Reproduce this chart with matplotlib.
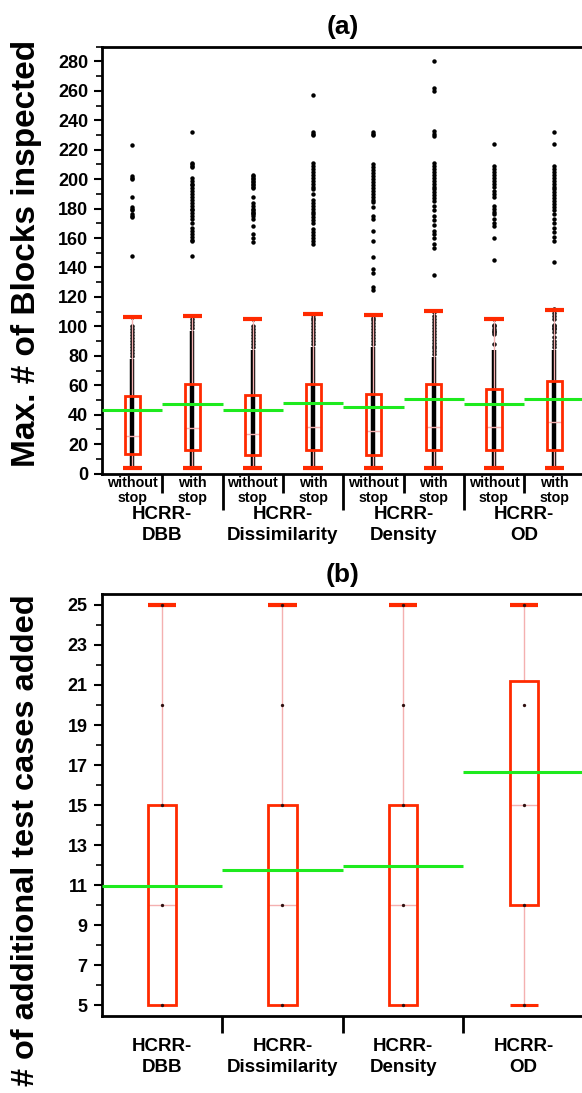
import numpy as np
import matplotlib
matplotlib.use("Agg")
import matplotlib.pyplot as plt
from matplotlib.ticker import MultipleLocator, FixedLocator
from matplotlib.transforms import blended_transform_factory

plt.rcParams['font.family'] = ['Liberation Sans', 'DejaVu Sans']
plt.rcParams['font.weight'] = 'bold'

groups = ['HCRR-\nDBB', 'HCRR-\nDissimilarity', 'HCRR-\nDensity', 'HCRR-\nOD']
variants = ['without\nstop', 'with\nstop']

# panel (a): max # of blocks inspected, 8 boxes (without / with stop per group)
a_low = [3.5, 3.5, 3.6, 3.5, 3.5, 3.6, 3.5, 3.6]
a_q1 = [13.0, 16.0, 12.5, 16.0, 12.3, 16.3, 16.0, 16.3]
a_med = [25.7, 31.1, 27.0, 31.8, 28.6, 31.9, 31.8, 34.9]
a_q3 = [52.7, 61.0, 53.3, 61.0, 53.8, 61.0, 57.3, 62.9]
a_high = [106.5, 107.3, 104.7, 108.1, 107.9, 110.2, 105.1, 111.4]
a_mean = [42.9, 47.6, 43.5, 47.8, 45.1, 50.7, 47.0, 50.7]
# raw observations: solid run of values, then the individual points
a_dense_lo = [3, 3, 3, 3, 3, 3, 3, 3]
a_dense_hi = [78, 97, 84, 86, 86, 79, 84, 84]
a_points = [
    [80, 82, 84, 86, 88, 90, 92, 94, 96, 98, 100, 106.5,
     148, 174, 175, 176, 179, 180, 181, 188, 200, 201, 202, 223],
    [99, 101, 103, 105, 107,
     148, 158, 159, 161, 163, 165, 167, 170, 173, 175, 177, 179, 180, 182, 184,
     186, 188, 190, 192, 194, 196, 197, 199, 201, 208, 209, 210, 211, 232],
    [86, 88, 90, 92, 94, 96, 98, 100, 105,
     157, 160, 163, 168, 173, 175, 176, 177, 178, 179, 180, 182, 184, 188,
     194, 195, 196, 197, 198, 199, 200, 201, 202, 203],
    [88, 90, 92, 94, 96, 98, 100, 102, 104, 106, 108,
     156, 158, 160, 162, 164, 166, 170, 172, 174, 176, 178, 180, 182, 184, 186,
     190, 193, 195, 197, 199, 201, 203, 205, 207, 209, 211, 230, 231, 232, 257],
    [88, 90, 92, 94, 96, 98, 100, 102, 104, 106, 108,
     125, 127, 136, 139, 147, 158, 165, 173, 175, 181, 184.5, 186, 188, 190,
     192, 194, 196, 198, 200, 202, 204, 206, 208, 210, 230, 231, 232],
    [81, 83, 85, 87, 89, 91, 93, 95, 97, 99, 101, 103, 105, 107, 110,
     135, 153, 156, 160, 163, 165, 169, 172, 175, 179, 182, 185, 187, 189, 191,
     193, 195, 197, 199, 201, 203, 205, 207, 209, 211, 229, 231, 233, 260, 262, 280],
    [88, 95, 96, 97, 98, 100, 101, 105,
     145, 160, 168, 170, 173, 176, 178, 180, 182, 188, 190, 192, 195, 197, 199,
     201, 203, 205, 207, 209, 224],
    [86, 88, 90, 93, 96, 98, 99, 100, 101, 105, 107, 109, 112,
     144, 158, 161, 164, 167, 170, 173, 176, 179, 181, 183, 185, 187, 189, 191,
     193, 195, 197, 199, 201, 203, 205, 207, 209, 224, 232],
]

# panel (b): # of additional test cases added, 4 boxes
b_low = [5, 5, 5, 5]
b_q1 = [5, 5, 5, 10]
b_med = [10, 10, 10, 15]
b_q3 = [15, 15, 15, 21.2]
b_high = [25, 25, 25, 25]
b_mean = [10.95, 11.77, 11.94, 16.64]
b_points = [[5, 10, 15, 20, 25]] * 4

RED = '#ff2a00'
PINK = '#f4b0b0'
GREEN = '#1eea1e'

fig = plt.figure(figsize=(5.82, 10.93), dpi=100)
ax1 = fig.add_axes([0.1753, 0.5667, 0.8289, 0.3906])
ax2 = fig.add_axes([0.1745, 0.0705, 0.8289, 0.3858])


def draw_boxes(ax, low, q1, med, q3, high, mean, bw, cw, cap_all):
    n = len(q1)
    x = np.arange(n) + 0.5
    for i in range(n):
        ax.vlines(x[i], q3[i], high[i], color=PINK, lw=1, zorder=4)
        ax.vlines(x[i], low[i], q1[i], color=PINK, lw=1, zorder=4)
        ax.hlines(med[i], x[i] - bw / 2, x[i] + bw / 2, color=PINK, lw=1, zorder=4)
        ax.add_patch(plt.Rectangle((x[i] - bw / 2, q1[i]), bw, q3[i] - q1[i],
                                   fill=False, ec=RED, lw=2, zorder=5))
        ax.hlines(high[i], x[i] - cw / 2, x[i] + cw / 2, color=RED, lw=3, zorder=5)
        if cap_all or low[i] < q1[i]:
            ax.hlines(low[i], x[i] - cw / 2, x[i] + cw / 2, color=RED,
                      lw=3 if cap_all else 2.2, zorder=5)
        ax.hlines(mean[i], i, i + 1, color=GREEN, lw=2.2, zorder=6)


def style_axis(ax):
    ax.spines['right'].set_visible(False)
    for s in ['left', 'top', 'bottom']:
        ax.spines[s].set_linewidth(2)
    ax.tick_params(axis='y', which='major', length=6, width=1.5, labelsize=13, pad=4)
    ax.tick_params(axis='y', which='minor', length=4, width=1.2)


# ---- panel (a)
x8 = np.arange(8) + 0.5
for i in range(8):
    ax1.vlines(x8[i], a_dense_lo[i], a_dense_hi[i], color='black', lw=3.2, zorder=3)
    ax1.plot([x8[i]] * len(a_points[i]), a_points[i], 'o', color='black',
             ms=3.2, mec='none', zorder=3)
draw_boxes(ax1, a_low, a_q1, a_med, a_q3, a_high, a_mean, 0.25, 0.32, True)
ax1.set_xlim(0, 8)
ax1.set_ylim(0, 290)
ax1.yaxis.set_major_locator(MultipleLocator(20))
ax1.yaxis.set_minor_locator(MultipleLocator(10))
style_axis(ax1)
ax1.set_xticks([2, 4, 6])
ax1.set_xticklabels([])
ax1.xaxis.set_minor_locator(FixedLocator([1, 3, 5, 7]))
ax1.tick_params(axis='x', which='major', length=26, width=2)
ax1.tick_params(axis='x', which='minor', length=14, width=2)
tr1 = blended_transform_factory(ax1.transData, ax1.transAxes)
for i in range(8):
    ax1.text(x8[i], -0.006, variants[i % 2], transform=tr1, ha='center', va='top',
             fontsize=10.3, linespacing=1.12)
for g in range(4):
    ax1.text(2 * g + 1, -0.076, groups[g], transform=tr1, ha='center', va='top',
             fontsize=13.5, linespacing=1.28)
ax1.set_title('(a)', fontsize=19, fontweight='bold', pad=9)

# ---- panel (b)
x4 = np.arange(4) + 0.5
for i in range(4):
    ax2.plot([x4[i]] * len(b_points[i]), b_points[i], 'o', color='#301010',
             ms=2.4, mec='none', zorder=7)
draw_boxes(ax2, b_low, b_q1, b_med, b_q3, b_high, b_mean, 0.235, 0.235, False)
ax2.set_xlim(0, 4)
ax2.set_ylim(4.47, 25.53)
ax2.yaxis.set_major_locator(FixedLocator(np.arange(5, 26, 2)))
ax2.yaxis.set_minor_locator(FixedLocator(np.arange(6, 26, 2)))
style_axis(ax2)
ax2.set_xticks([1, 2, 3])
ax2.set_xticklabels([])
ax2.tick_params(axis='x', which='major', length=12, width=2)
tr2 = blended_transform_factory(ax2.transData, ax2.transAxes)
for g in range(4):
    ax2.text(x4[g], -0.052, groups[g], transform=tr2, ha='center', va='top',
             fontsize=13.5, linespacing=1.28)
ax2.set_title('(b)', fontsize=19, fontweight='bold', pad=9)

fig.text(0.045, 0.7685, 'Max. # of Blocks inspected', rotation=90, ha='center',
         va='center', fontsize=24, fontweight='bold')
fig.text(0.045, 0.231, '# of additional test cases added', rotation=90, ha='center',
         va='center', fontsize=23.4, fontweight='bold')

fig.savefig('out.png', dpi=100)
